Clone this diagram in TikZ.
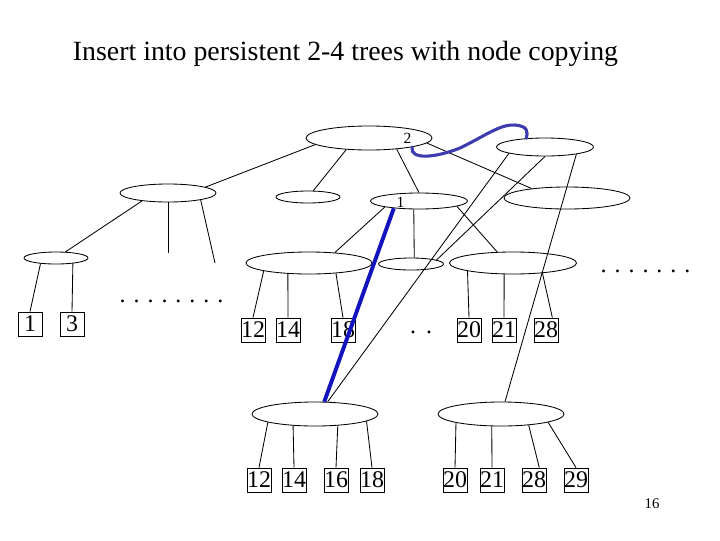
\documentclass[tikz,border=0pt]{standalone}
\usepackage{fontspec}
\setmainfont{Liberation Serif}
\usetikzlibrary{shapes.geometric}
\definecolor{copyblue}{RGB}{20,20,190}
\definecolor{linkblue}{RGB}{60,60,175}
\begin{document}
\begin{tikzpicture}[x=0.025cm, y=-0.025cm, line width=0.6pt,
        knot/.style={draw, ellipse, inner sep=0pt},
        leaf/.style={draw, rectangle, inner sep=0pt, minimum size=0.6cm, font=\fontsize{17}{17}\selectfont},
        tag/.style={inner sep=0pt, font=\fontsize{11}{11}\selectfont}]
            \useasboundingbox (0,0) rectangle (720,540);
            \node[anchor=base, font=\fontsize{19.8}{24}\selectfont] (title) at (345.5,60) {Insert into persistent 2-4 trees with node copying};

            \node[knot, minimum width=3.15cm, minimum height=0.6cm] (oldroot) at (369,138) {};
            \node[knot, minimum width=2.425cm, minimum height=0.45cm] (newroot) at (545,147) {};
            \node[knot, minimum width=2.4cm, minimum height=0.45cm] (lhalf) at (168,193) {};
            \node[knot, minimum width=1.6cm, minimum height=0.3cm] (sib) at (308,197) {};
            \node[knot, minimum width=2.425cm, minimum height=0.4cm] (one) at (419,201) {};
            \node[knot, minimum width=3.15cm, minimum height=0.55cm] (rhalf) at (567,198) {};
            \node[knot, minimum width=1.6cm, minimum height=0.3cm] (small) at (56,258) {};
            \node[knot, minimum width=3.15cm, minimum height=0.55cm] (lnode) at (309,263) {};
            \node[knot, minimum width=1.625cm, minimum height=0.3cm] (mid) at (411,264) {};
            \node[knot, minimum width=3.175cm, minimum height=0.55cm] (rnode) at (513,263) {};
            \node[knot, minimum width=3.15cm, minimum height=0.6cm] (botl) at (315,414) {};
            \node[knot, minimum width=3.15cm, minimum height=0.6cm] (botr) at (501,414) {};

            \node[tag] (two) at (407.5,138.5) {2};
            \node[tag] (onelabel) at (400.5,202) {1};

            \node[leaf] (b1) at (30,324) {1};
            \node[leaf] (b3) at (72,324) {3};
            \node[leaf] (a12) at (253,330) {12};
            \node[leaf] (a14) at (288,330) {14};
            \node[leaf] (a18) at (343,330) {18};
            \node[leaf] (a20) at (469,330) {20};
            \node[leaf] (a21) at (504,330) {21};
            \node[leaf] (a28) at (546,330) {28};
            \node[leaf] (c12) at (259,480) {12};
            \node[leaf] (c14) at (294,480) {14};
            \node[leaf] (c16) at (336,480) {16};
            \node[leaf] (c18) at (372,480) {18};
            \node[leaf] (c20) at (455,480) {20};
            \node[leaf] (c21) at (492,480) {21};
            \node[leaf] (c28) at (534,480) {28};
            \node[leaf] (c29) at (576,480) {29};

            \node[anchor=base, font=\fontsize{17}{17}\selectfont] (ldots) at (171.5,302) {. . . . . . . .};
            \node[anchor=base, font=\fontsize{17}{17}\selectfont] (rdots) at (645.5,272) {. . . . . . .};
            \node[anchor=base, font=\fontsize{17}{17}\selectfont] (mdots) at (421,333) {.\hspace{0.25cm}.};
            \node[font=\fontsize{10.5}{10.5}\selectfont] (page) at (652,504) {16};

            \coordinate (lfree1) at (168,253);
            \coordinate (lfree2) at (215,263);

            \draw (oldroot.187) -- (lhalf.9);
            \draw (oldroot.207) -- (sib.50);
            \draw (oldroot.-22) -- (one.90);
            \draw (oldroot.-5) -- (rhalf.165);
            \draw (newroot.190) -- (botl.44);
            \draw (newroot.270) -- (mid.9);
            \draw (newroot.-13) -- (botr.72);
            \draw (lhalf.197) -- (small.33);
            \draw (lhalf.270) -- (lfree1);
            \draw (lhalf.-12) -- (lfree2);
            \draw (small.200) -- (b1.north);
            \draw (small.-18) -- (b3.north);
            \draw (one.190) -- (lnode.22);
            \draw (one.238) -- (mid.63);
            \draw (one.-8) -- (rnode.145);
            \draw (lnode.190) -- (a12.north);
            \draw (lnode.207) -- (a14.north);
            \draw (lnode.-21) -- (a18.north);
            \draw (rnode.190) -- (a20.north);
            \draw (rnode.232) -- (a21.north);
            \draw (rnode.-19) -- (a28.63);
            \draw (botl.190) -- (c12.north);
            \draw (botl.208) -- (c14.north);
            \draw (botl.-27) -- (c16.north);
            \draw (botl.-8) -- (c18.north);
            \draw (botr.191) -- (c20.north);
            \draw (botr.233) -- (c21.north);
            \draw (botr.-22) -- (c28.67);
            \draw (botr.-10) -- (c29.north);

            \draw[copyblue, line width=2.8pt] (one.196) -- (botl.53);
            \draw[linkblue, line width=2.2pt, line cap=round] (oldroot.-12) .. controls (410,160) and (435,158) .. (460,148)
                .. controls (485,136) and (500,124) .. (515,125) .. controls (528,126) and (528,132) .. (newroot.155);
        \end{tikzpicture}
\end{document}
